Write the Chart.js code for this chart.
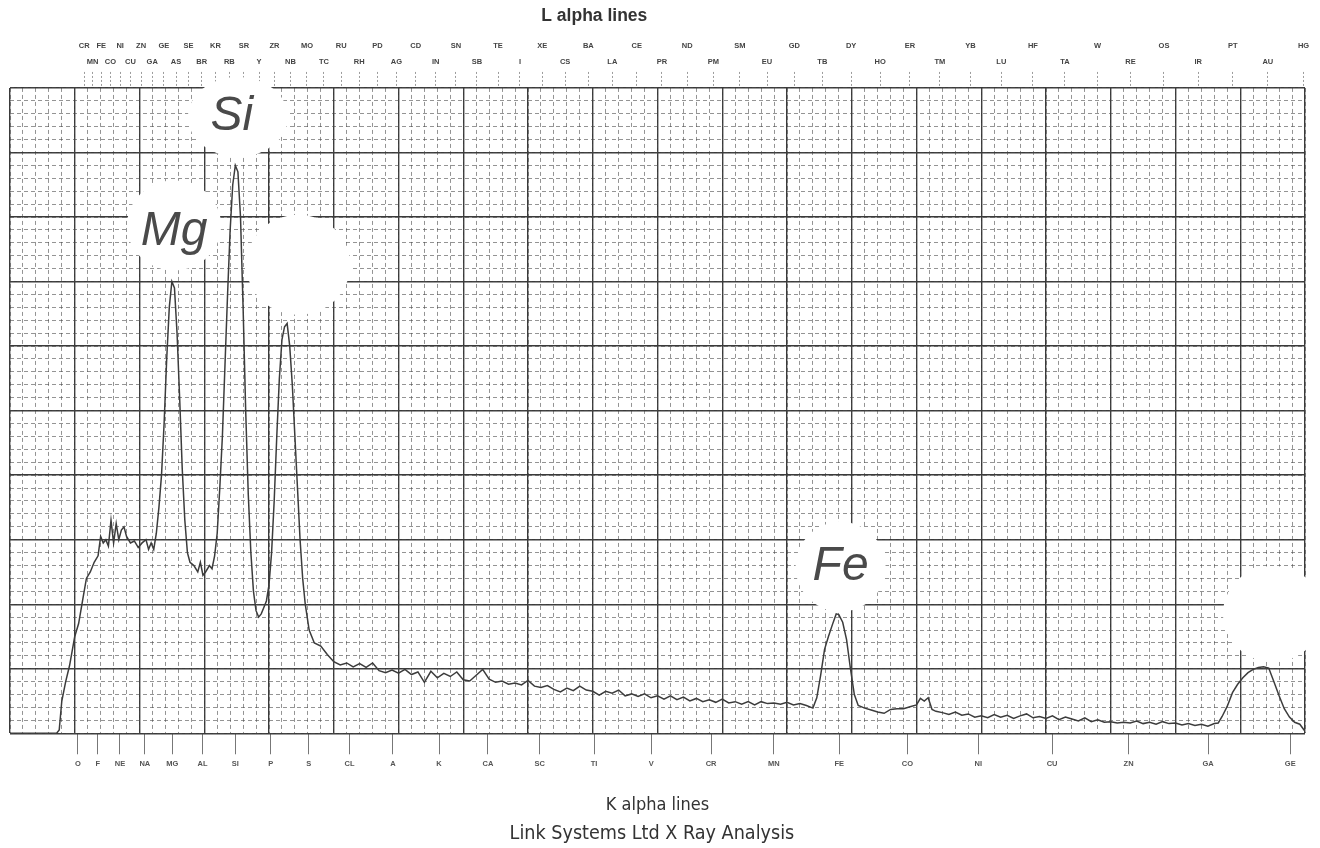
<!DOCTYPE html>
<html><head><meta charset="utf-8">
<script src="https://cdn.jsdelivr.net/npm/chart.js@4.4.1/dist/chart.umd.min.js"></script>
<style>html,body{margin:0;padding:0;background:#fff}#wrap{width:1320px;height:848px;position:relative}</style>
</head><body><div id="wrap"><canvas id="c"></canvas></div>
<script>
// Spectrum: energy (keV) and counts (% of full scale)
const energyKeV = [0.00,0.20,0.36,0.38,0.40,0.43,0.46,0.50,0.53,0.56,0.59,0.62,0.65,0.68,0.70,0.72,0.74,0.76,0.78,0.80,0.82,0.84,0.86,0.88,0.90,0.93,0.96,0.99,1.02,1.05,1.07,1.09,1.11,1.13,1.15,1.17,1.19,1.21,1.23,1.25,1.27,1.29,1.31,1.33,1.35,1.37,1.39,1.42,1.45,1.47,1.49,1.51,1.54,1.56,1.58,1.60,1.62,1.64,1.66,1.68,1.70,1.72,1.74,1.76,1.78,1.80,1.82,1.84,1.86,1.88,1.90,1.92,1.94,1.96,1.98,2.00,2.02,2.04,2.06,2.08,2.10,2.12,2.14,2.16,2.18,2.20,2.22,2.24,2.26,2.28,2.31,2.35,2.40,2.45,2.50,2.55,2.60,2.65,2.70,2.75,2.80,2.85,2.90,2.95,3.00,3.05,3.10,3.15,3.20,3.25,3.30,3.35,3.40,3.45,3.50,3.55,3.60,3.65,3.70,3.75,3.80,3.85,3.90,3.95,4.00,4.05,4.10,4.15,4.20,4.25,4.30,4.35,4.40,4.45,4.50,4.55,4.60,4.65,4.70,4.75,4.80,4.85,4.90,4.95,5.00,5.05,5.10,5.15,5.20,5.25,5.30,5.35,5.40,5.45,5.50,5.55,5.60,5.65,5.70,5.75,5.80,5.85,5.90,5.95,6.00,6.05,6.10,6.15,6.20,6.23,6.26,6.29,6.32,6.35,6.38,6.40,6.43,6.46,6.49,6.52,6.55,6.60,6.65,6.70,6.75,6.80,6.85,6.90,6.95,7.00,7.03,7.06,7.09,7.12,7.15,7.20,7.25,7.30,7.35,7.40,7.45,7.50,7.55,7.60,7.65,7.70,7.75,7.80,7.85,7.90,7.95,8.00,8.05,8.10,8.15,8.20,8.25,8.30,8.35,8.40,8.45,8.50,8.55,8.60,8.65,8.70,8.75,8.80,8.85,8.90,8.95,9.00,9.05,9.10,9.15,9.20,9.25,9.30,9.33,9.36,9.40,9.44,9.48,9.52,9.56,9.60,9.64,9.68,9.72,9.76,9.80,9.84,9.88,9.92,9.96,10.00];
const counts = [0,0,0,0.5,5,8,10.5,15,17,20.5,24,25,26.5,27.5,30.5,29.5,30,29,33,29.5,32.5,30,31.5,32,30.5,29.5,29.8,28.8,29.5,30,28.5,29.5,28.5,31,35,40,48,58,66,70,69,62,52,41,33,28,26.5,26,25,26.5,24.5,25,26,25.5,27.5,31,38,46,57,68,78,85,88,87,80,66,50,37,28,22,19,18,18.5,19.5,20.5,23,28,36,46,55,61,63,63.5,60,54,46,38,30,24,20,16,14,13.5,12.2,11.1,10.6,10.9,10.3,10.8,10.2,10.9,9.7,9.4,9.8,9.3,9.9,9.1,9.5,7.9,9.6,8.6,9.3,8.8,9.5,8.3,8.1,9.0,9.9,8.4,7.9,8.1,7.6,7.8,7.5,8.2,7.3,7.1,7.4,6.8,6.4,7.0,6.6,7.3,6.7,6.5,5.9,6.5,6.2,6.7,5.8,6.1,5.7,6.1,5.5,5.8,5.3,5.8,5.2,5.6,5.0,5.4,4.9,5.2,4.8,5.3,4.7,4.9,4.5,4.9,4.4,4.9,4.6,4.7,4.5,4.8,4.4,4.6,4.3,3.9,5.5,9,13,15,16.8,18.5,18.4,17.2,14.5,10,6,4.3,3.9,3.6,3.3,3.1,3.7,3.8,3.8,4.1,4.4,5.4,5.0,5.5,3.7,3.4,3.2,2.9,3.3,2.8,3.0,2.5,2.7,2.4,2.9,2.5,2.8,2.3,2.7,3.0,2.4,2.6,2.3,2.7,2.1,2.5,2.2,1.9,2.4,1.8,2.1,1.7,1.8,1.6,1.7,1.6,1.9,1.5,1.7,1.4,1.8,1.5,1.6,1.3,1.5,1.2,1.4,1.1,1.5,1.6,2.6,4.2,6.3,7.6,8.6,9.4,9.9,10.2,10.3,10.1,8.0,5.8,3.8,2.5,1.7,1.4,0.3];

// K alpha scale (bottom)
const kAlphaElements = ['O','F','NE','NA','MG','AL','SI','P','S','CL','A','K','CA','SC','TI','V','CR','MN','FE','CO','NI','CU','ZN','GA','GE'];
const kAlphaKeV = [0.525,0.677,0.849,1.041,1.254,1.487,1.740,2.013,2.307,2.622,2.957,3.313,3.691,4.090,4.510,4.952,5.414,5.898,6.403,6.930,7.477,8.047,8.638,9.251,9.886];

// L alpha scale (top), two rows
const lAlphaUpper = ['CR','FE','NI','ZN','GE','SE','KR','SR','ZR','MO','RU','PD','CD','SN','TE','XE','BA','CE','ND','SM','GD','DY','ER','YB','HF','W','OS','PT','HG'];
const lAlphaUpperKeV = [0.573,0.705,0.851,1.012,1.188,1.379,1.586,1.806,2.042,2.293,2.558,2.838,3.133,3.444,3.769,4.110,4.466,4.840,5.230,5.636,6.057,6.495,6.949,7.416,7.899,8.398,8.911,9.442,9.989];
const lAlphaLower = ['MN','CO','CU','GA','AS','BR','RB','Y','NB','TC','RH','AG','IN','SB','I','CS','LA','PR','PM','EU','TB','HO','TM','LU','TA','RE','IR','AU'];
const lAlphaLowerKeV = [0.637,0.776,0.930,1.098,1.282,1.480,1.694,1.923,2.166,2.424,2.697,2.984,3.287,3.605,3.938,4.287,4.651,5.034,5.432,5.846,6.273,6.720,7.180,7.655,8.146,8.652,9.175,9.713];

// Peak annotations (hand-written labels on white patches)
const patchKeV   = [1.76, 1.267, 2.226, 6.414, 9.753];
const patchValue = [95.5, 78.7, 72.6, 25.8, 18.5];
const patchLabel = ['Si', 'Mg', '', 'Fe', ''];

const lTickList = lAlphaUpperKeV.map((v,i)=>({value:v,label:[lAlphaUpper[i],'']}))
  .concat(lAlphaLowerKeV.map((v,i)=>({value:v,label:lAlphaLower[i]})))
  .sort((a,b)=>a.value-b.value);

const patchPlugin = {
  id: 'patches',
  beforeDatasetsDraw(chart) {
    const {ctx, scales} = chart;
    const x = scales.x, y = scales.y;
    const rx = [50, 47, 52, 45, 50], ry = [40, 45, 50, 45, 48];
    ctx.save();
    ctx.fillStyle = '#ffffff';
    patchKeV.forEach((e, i) => {
      ctx.beginPath();
      ctx.ellipse(x.getPixelForValue(e), y.getPixelForValue(patchValue[i]), rx[i], ry[i], 0, 0, Math.PI * 2);
      ctx.fill();
    });
    ctx.fillStyle = '#4a4a4a';
    ctx.font = 'italic 48px "Liberation Sans", Arial, sans-serif';
    ctx.textAlign = 'center';
    ctx.textBaseline = 'middle';
    patchKeV.forEach((e, i) => {
      if (patchLabel[i]) ctx.fillText(patchLabel[i], x.getPixelForValue(e) - (i === 0 ? 6 : 0), y.getPixelForValue(patchValue[i]) + (i === 1 ? 6 : 0));
    });
    ctx.restore();
  }
};

const smallFont = {family: '"Liberation Sans", Arial, sans-serif', size: 7.5, weight: 'bold'};
const textFont = '"DejaVu Sans Condensed", "DejaVu Sans", sans-serif';

new Chart(document.getElementById('c'), {
  type: 'line',
  data: {
    datasets: [{
      data: energyKeV.map((e, i) => ({x: e, y: counts[i]})),
      borderColor: '#3c3c3c',
      borderWidth: 1.5,
      pointRadius: 0,
      tension: 0,
      fill: false
    }]
  },
  options: {
    responsive: true,
    maintainAspectRatio: false,
    animation: false,
    layout: {padding: {top: 6, left: 10, right: 15, bottom: 2.6}},
    plugins: {
      legend: {display: false},
      tooltip: {enabled: false},
      title: {display: true, text: 'L alpha lines' + '\u00a0'.repeat(26), position: 'top', color: '#333',
        font: {family: '"Liberation Sans", Arial, sans-serif', size: 17.5, weight: 'bold'}, padding: {top: 0, bottom: 9}},
      subtitle: {display: true, text: 'Link Systems Ltd X Ray Analysis\u00a0\u00a0', position: 'bottom', color: '#333',
        font: {family: textFont, size: 19.6, weight: 'normal'}, padding: {top: 6, bottom: 0}}
    },
    scales: {
      x: {type: 'linear', position: 'bottom', min: 0, max: 10,
        ticks: {display: false, stepSize: 0.5},
        grid: {color: '#3a3a3a', lineWidth: 1.4, drawTicks: false}, border: {display: false}},
      xMinor: {type: 'linear', position: 'bottom', min: 0, max: 10,
        ticks: {display: false, stepSize: 0.1},
        grid: {color: 'rgba(70,70,70,0.58)', lineWidth: 1, drawTicks: false}, border: {display: false, dash: [4, 3]}},
      xk: {type: 'linear', position: 'bottom', min: 0, max: 10,
        afterBuildTicks: axis => { axis.ticks = kAlphaKeV.map(v => ({value: v})); },
        ticks: {autoSkip: false, maxRotation: 0, minRotation: 0, padding: 5, color: '#555', font: smallFont,
          callback: (v, i) => kAlphaElements[i]},
        grid: {drawOnChartArea: false, drawTicks: true, tickLength: 21, tickColor: '#777', tickWidth: 1},
        border: {display: false},
        title: {display: true, text: 'K alpha lines', color: '#333', font: {family: textFont, size: 18}, padding: {top: 21, bottom: 0}}},
      xl: {type: 'linear', position: 'top', min: 0, max: 10,
        afterBuildTicks: axis => { axis.ticks = lTickList.map(t => ({value: t.value})); },
        ticks: {autoSkip: false, maxRotation: 0, minRotation: 0, padding: 2, color: '#444',
          font: {family: smallFont.family, size: 7.5, weight: 'bold', lineHeight: 2.13},
          callback: (v, i) => lTickList[i].label},
        grid: {drawOnChartArea: false, drawTicks: true, tickLength: 16, tickColor: 'rgba(90,90,90,0.6)', tickWidth: 1, tickBorderDash: [2, 2]},
        border: {display: false}},
      y: {type: 'linear', min: 0, max: 100, position: 'left',
        ticks: {display: false, stepSize: 10},
        grid: {color: '#3a3a3a', lineWidth: 1.4, drawTicks: false}, border: {display: false}},
      yMinor: {type: 'linear', min: 0, max: 100, position: 'left',
        ticks: {display: false, stepSize: 2},
        grid: {color: 'rgba(70,70,70,0.58)', lineWidth: 1, drawTicks: false}, border: {display: false, dash: [4, 3]}}
    }
  },
  plugins: [patchPlugin]
});
</script></body></html>
